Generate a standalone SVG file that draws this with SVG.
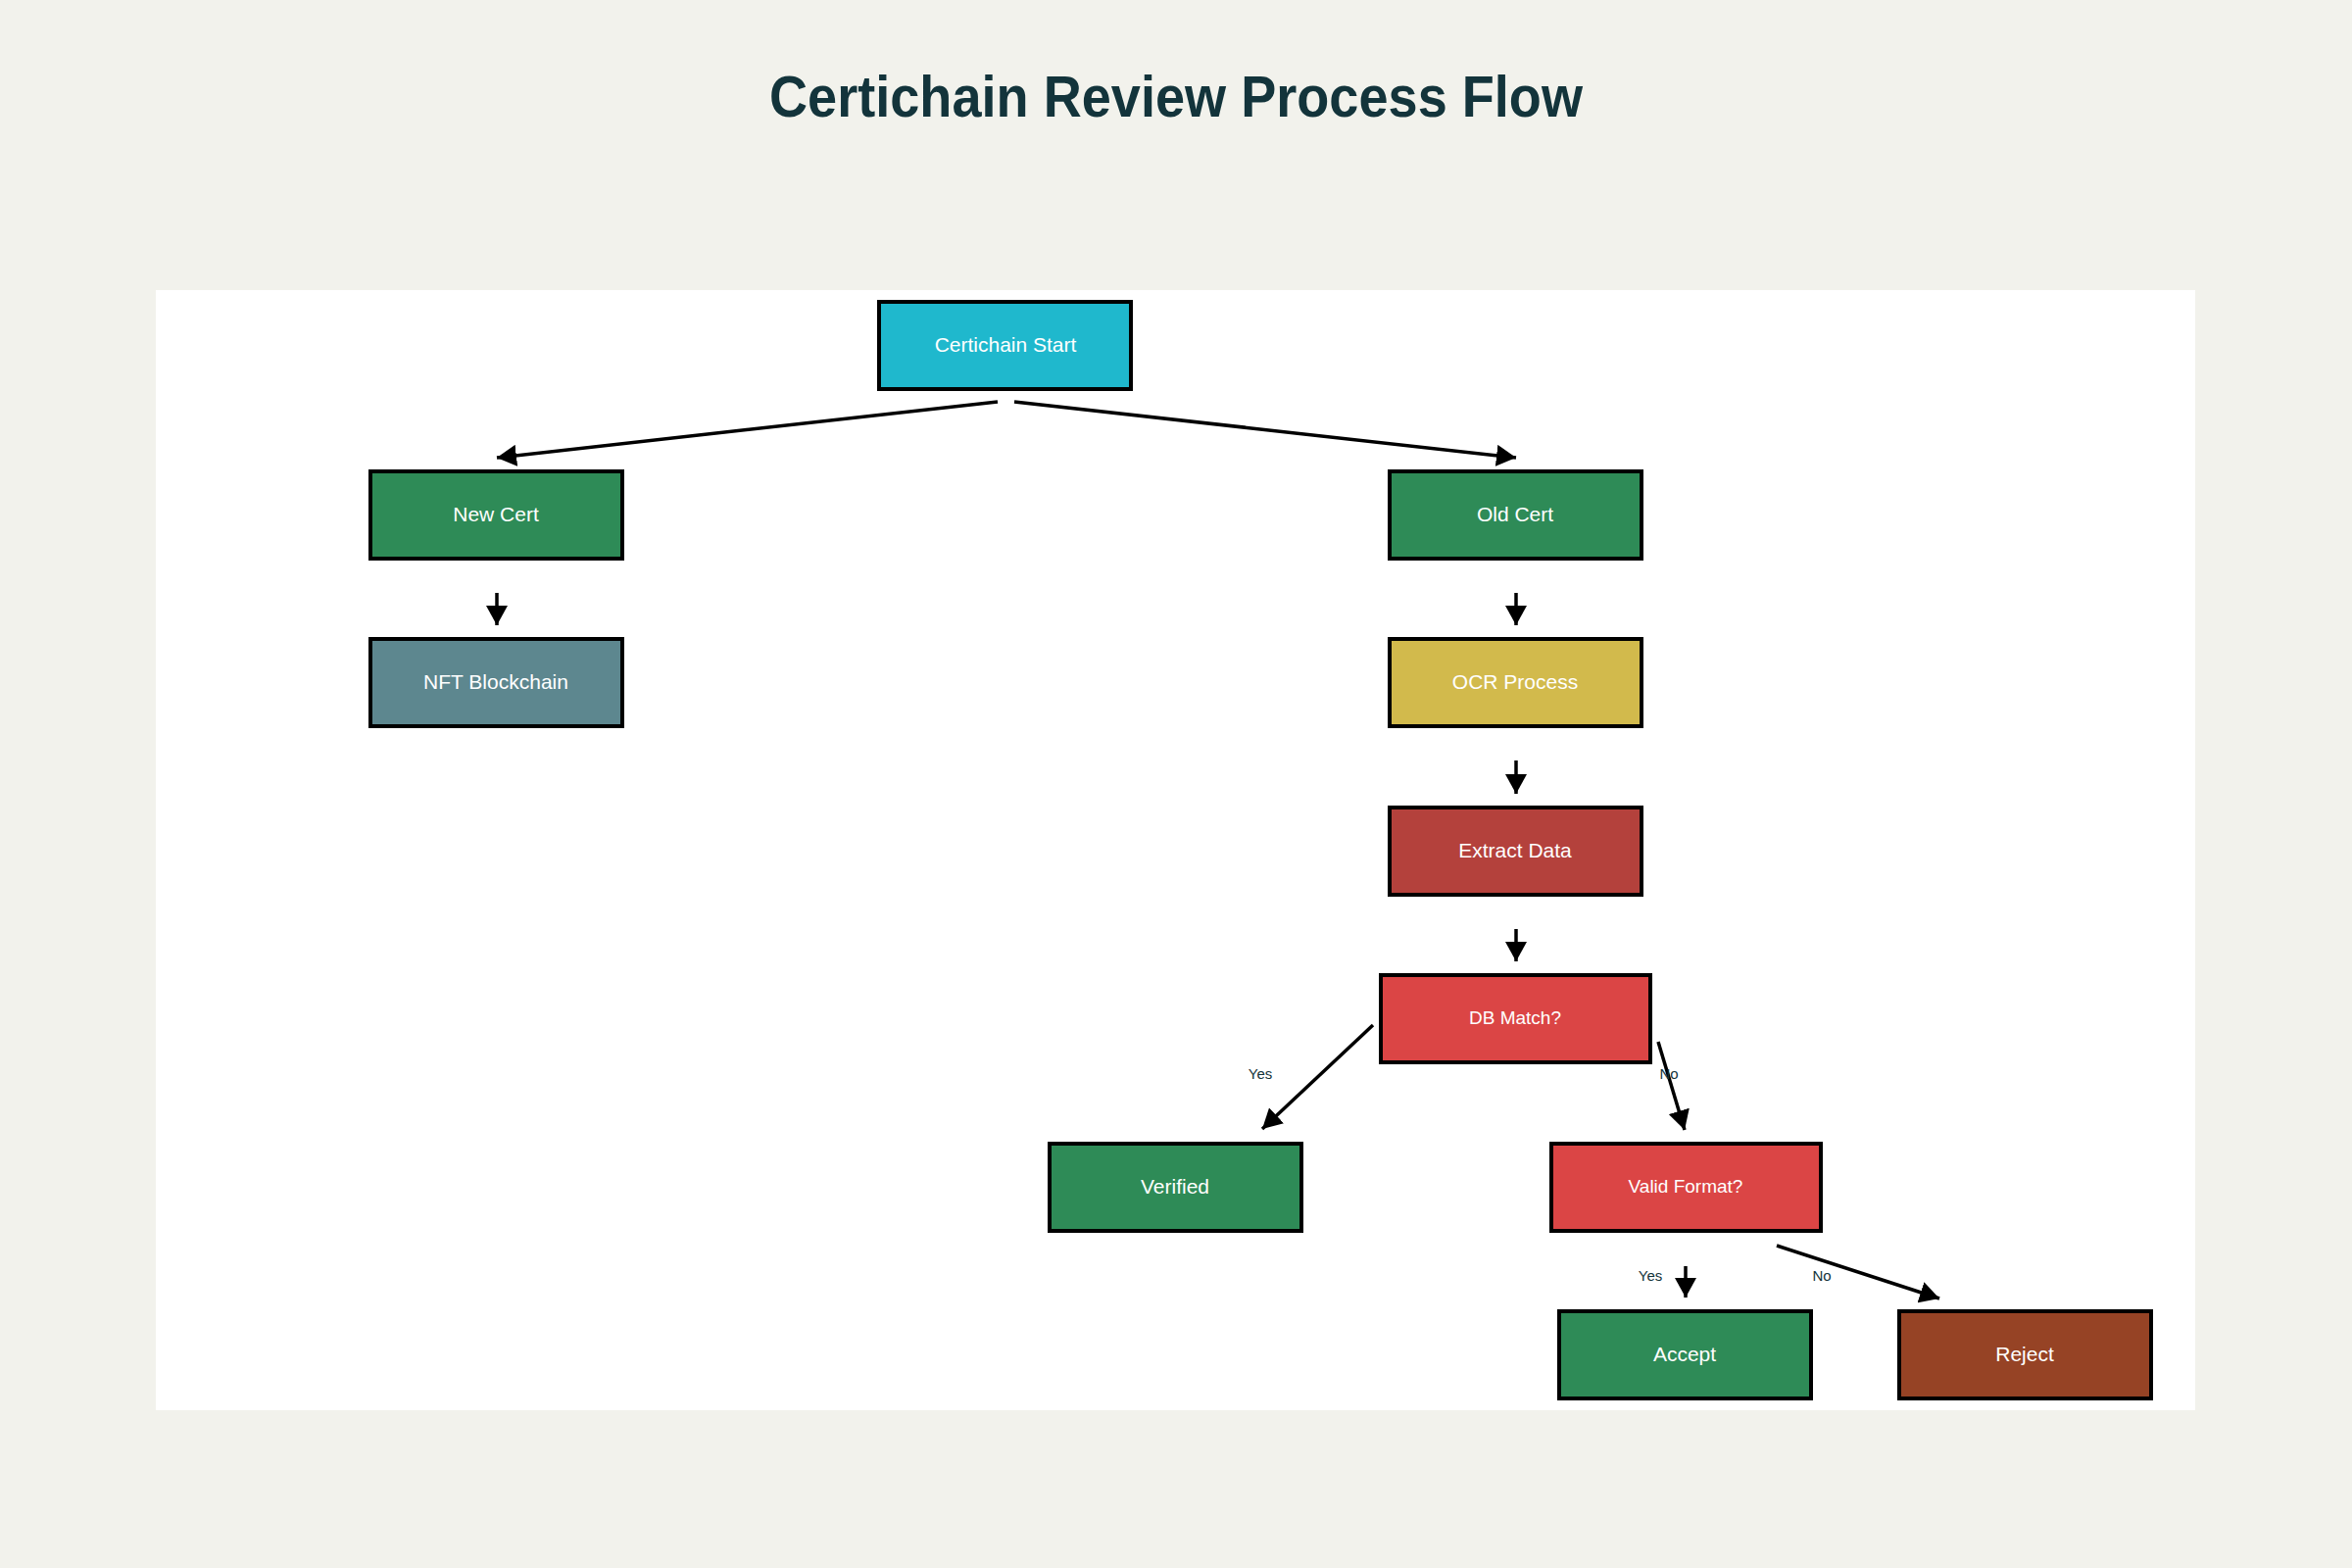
<svg xmlns="http://www.w3.org/2000/svg" width="2400" height="1600" viewBox="0 0 2400 1600">
  <defs>
    <marker id="arrow" viewBox="0 0 20 22" refX="20" refY="11" markerWidth="20" markerHeight="22" markerUnits="userSpaceOnUse" orient="auto">
      <path d="M0,0 L20,11 L0,22 z" fill="#000"/>
    </marker>
    <style>
      .node rect { stroke: #000; stroke-width: 4; }
      .node text { font-family: "Liberation Sans", Arial, sans-serif; font-size: 21px; fill: #FFFFFF; text-anchor: middle; }
      .node.dec text { font-size: 19px; }
      .edge { stroke: #000; stroke-width: 3.5; fill: none; marker-end: url(#arrow); }
      .elabel { font-family: "Liberation Sans", Arial, sans-serif; font-size: 15px; fill: #13343B; text-anchor: middle; }
      .title { font-family: "Liberation Sans", Arial, sans-serif; font-size: 60px; font-weight: bold; fill: #13343B; text-anchor: middle; }
    </style>
  </defs>
  <rect x="0" y="0" width="2400" height="1600" fill="#F2F2EC"/>
  <rect x="159" y="296" width="2081" height="1143" fill="#FFFFFF"/>
  <text class="title" x="1200" y="119" textLength="830" lengthAdjust="spacingAndGlyphs">Certichain Review Process Flow</text>

  <g id="connectors">
    <line class="edge" x1="1018" y1="410" x2="507" y2="467"/>
    <line class="edge" x1="1035" y1="410" x2="1547" y2="467"/>
    <line class="edge" x1="507" y1="605" x2="507" y2="638"/>
    <line class="edge" x1="1547" y1="605" x2="1547" y2="638"/>
    <line class="edge" x1="1547" y1="776" x2="1547" y2="810"/>
    <line class="edge" x1="1547" y1="948" x2="1547" y2="981"/>
    <line class="edge" x1="1401" y1="1046" x2="1288" y2="1152"/>
    <line class="edge" x1="1692" y1="1063" x2="1719" y2="1153"/>
    <line class="edge" x1="1720" y1="1292" x2="1720" y2="1324"/>
    <line class="edge" x1="1813" y1="1271" x2="1979" y2="1325"/>
    <text class="elabel" x="1286" y="1101">Yes</text>
    <text class="elabel" x="1703" y="1101">No</text>
    <text class="elabel" x="1684" y="1307">Yes</text>
    <text class="elabel" x="1859" y="1307">No</text>
  </g>

  <g id="start" class="node">
    <rect x="897" y="308" width="257" height="89" fill="#1FB8CD"/>
    <text x="1026" y="359">Certichain Start</text>
  </g>
  <g id="newcert" class="node">
    <rect x="378" y="481" width="257" height="89" fill="#2E8B57"/>
    <text x="506" y="532">New Cert</text>
  </g>
  <g id="nft" class="node">
    <rect x="378" y="652" width="257" height="89" fill="#5D878F"/>
    <text x="506" y="703">NFT Blockchain</text>
  </g>
  <g id="oldcert" class="node">
    <rect x="1418" y="481" width="257" height="89" fill="#2E8B57"/>
    <text x="1546" y="532">Old Cert</text>
  </g>
  <g id="ocr" class="node">
    <rect x="1418" y="652" width="257" height="89" fill="#D2BA4C"/>
    <text x="1546" y="703">OCR Process</text>
  </g>
  <g id="extract" class="node">
    <rect x="1418" y="824" width="257" height="89" fill="#B4413C"/>
    <text x="1546" y="875">Extract Data</text>
  </g>
  <g id="dbmatch" class="node dec">
    <rect x="1409" y="995" width="275" height="89" fill="#DB4545"/>
    <text x="1546" y="1045">DB Match?</text>
  </g>
  <g id="verified" class="node">
    <rect x="1071" y="1167" width="257" height="89" fill="#2E8B57"/>
    <text x="1199" y="1218">Verified</text>
  </g>
  <g id="validformat" class="node dec">
    <rect x="1583" y="1167" width="275" height="89" fill="#DB4545"/>
    <text x="1720" y="1217">Valid Format?</text>
  </g>
  <g id="accept" class="node">
    <rect x="1591" y="1338" width="257" height="89" fill="#2E8B57"/>
    <text x="1719" y="1389">Accept</text>
  </g>
  <g id="reject" class="node">
    <rect x="1938" y="1338" width="257" height="89" fill="#964325"/>
    <text x="2066" y="1389">Reject</text>
  </g>
</svg>
